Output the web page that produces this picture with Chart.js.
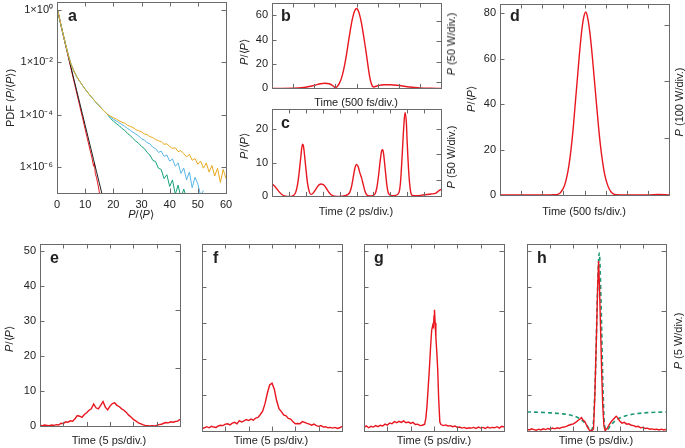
<!DOCTYPE html>
<html>
<head>
<meta charset="utf-8">
<script src="https://cdn.jsdelivr.net/npm/chart.js@4.4.0/dist/chart.umd.min.js"></script>
<style>
  body { margin: 0; background: #fff; }
  #fig { position: relative; width: 685px; height: 448px; overflow: hidden; font-family: 'Liberation Sans', Arial, sans-serif; color: #222; }
  #fig canvas { position: absolute; }
  .t { position: absolute; font-size: 11px; white-space: nowrap; transform: translate(-50%, -50%); z-index: 2; }
  .r { transform: translate(-50%, -50%) rotate(-90deg); }
  .lt { position: absolute; font-size: 16px; font-weight: bold; line-height: 16px; z-index: 2; }
</style>
</head>
<body>
<div id="fig">
  <div class="lt" style="left:68px;top:8px">a</div>
  <div class="lt" style="left:281px;top:8px">b</div>
  <div class="lt" style="left:281px;top:115px">c</div>
  <div class="lt" style="left:510px;top:8px">d</div>
  <div class="lt" style="left:50px;top:250px">e</div>
  <div class="lt" style="left:213px;top:250px">f</div>
  <div class="lt" style="left:374px;top:250px">g</div>
  <div class="lt" style="left:537px;top:250px">h</div>

  <div class="t r" style="left:10px;top:98px">PDF (<i>P</i>/⟨<i>P</i>⟩)</div>
  <div class="t" style="left:141px;top:214px"><i>P</i>/⟨<i>P</i>⟩</div>

  <div class="t r" style="left:244px;top:52px"><i>P</i>/⟨<i>P</i>⟩</div>
  <div class="t r" style="left:451px;top:44px"><i>P</i> (50 W/div.)</div>
  <div class="t" style="left:356px;top:102px">Time (500 fs/div.)</div>

  <div class="t r" style="left:244px;top:146px"><i>P</i>/⟨<i>P</i>⟩</div>
  <div class="t r" style="left:451px;top:157px"><i>P</i> (50 W/div.)</div>
  <div class="t" style="left:356px;top:211px">Time (2 ps/div.)</div>

  <div class="t r" style="left:471px;top:99px"><i>P</i>/⟨<i>P</i>⟩</div>
  <div class="t r" style="left:679px;top:102px"><i>P</i> (100 W/div.)</div>
  <div class="t" style="left:584px;top:211px">Time (500 fs/div.)</div>

  <div class="t r" style="left:9px;top:339px"><i>P</i>/⟨<i>P</i>⟩</div>
  <div class="t" style="left:109px;top:440px">Time (5 ps/div.)</div>
  <div class="t" style="left:271px;top:440px">Time (5 ps/div.)</div>
  <div class="t" style="left:434px;top:440px">Time (5 ps/div.)</div>
  <div class="t" style="left:596px;top:440px">Time (5 ps/div.)</div>
  <div class="t r" style="left:678px;top:341px"><i>P</i> (5 W/div.)</div>
</div>
<script>
// ---- panel a: PDF of P/<P>, values as log10 of the PDF ----
const aTickVals = [1, 1e-2, 1e-4, 1e-6];
const aTickLabels = ['1×10⁰', '1×10⁻²', '1×10⁻⁴', '1×10⁻⁶'];
const aXTicks = [0, 10, 20, 30, 40, 50, 60];

const redP = [0, 1, 2, 3, 4, 5, 6, 7, 8, 9, 10, 11, 12, 12.5, 13, 13.3, 13.6, 14, 14.5, 15, 15.4];
const redLog = [0.1, -0.4, -0.87, -1.33, -1.8, -2.26, -2.72, -3.18, -3.64, -4.1, -4.56, -5.02, -5.48, -5.7, -5.98, -5.85, -6.25, -6.4, -6.65, -6.95, -7.2];
const blackP = [0, 1, 2, 3, 4, 5, 6, 7, 8, 9, 10, 11, 12, 13, 14, 15, 16];
const blackLog = [0.1, -0.4, -0.86, -1.31, -1.76, -2.21, -2.65, -3.09, -3.53, -3.97, -4.41, -4.85, -5.29, -5.73, -6.17, -6.61, -7.05];
const sharedP = [0, 1, 2, 3, 4, 5, 6, 7, 8, 9, 10, 11, 12, 13, 14, 15, 16, 17, 18];
const sharedLog = [0.1, -0.38, -0.85, -1.3, -1.72, -2.08, -2.34, -2.55, -2.72, -2.88, -3.03, -3.17, -3.3, -3.43, -3.55, -3.67, -3.79, -3.9, -4.0];
const orangeTailP = [19, 20, 21, 22, 23, 24, 25, 26, 27, 28, 29, 30, 31, 32, 33, 34, 35, 36, 37, 38, 39, 40, 41, 42, 43, 44, 45, 46, 47, 48, 49, 50, 51, 52, 53, 54, 55, 56, 57, 58, 59, 60];
const orangeTailLog = [-4.06, -4.12, -4.17, -4.24, -4.29, -4.33, -4.41, -4.45, -4.5, -4.58, -4.62, -4.66, -4.74, -4.77, -4.85, -4.88, -4.96, -5.0, -5.04, -5.14, -5.12, -5.22, -5.3, -5.27, -5.42, -5.38, -5.5, -5.62, -5.52, -5.75, -5.68, -5.9, -5.78, -6.05, -5.85, -6.2, -5.95, -6.35, -6.05, -6.6, -6.1, -6.45];
const blueTailP = [19, 20, 21, 22, 23, 24, 25, 26, 27, 28, 29, 30, 31, 32, 33, 34, 35, 36, 37, 38, 39, 40, 41, 42, 43, 44, 45, 46, 47, 48, 49, 50, 51, 52];
const blueTailLog = [-4.1, -4.18, -4.24, -4.31, -4.38, -4.45, -4.53, -4.6, -4.68, -4.75, -4.82, -4.93, -4.97, -5.08, -5.12, -5.25, -5.3, -5.45, -5.4, -5.6, -5.55, -5.78, -5.7, -5.98, -5.85, -6.25, -6.05, -6.5, -6.2, -6.8, -6.4, -6.65, -7.1, -6.9];
const greenTailP = [19, 20, 21, 22, 23, 24, 25, 26, 27, 28, 29, 30, 31, 32, 33, 34, 35, 36, 37, 38, 39, 40, 41, 42, 43, 44, 45, 46];
const greenTailLog = [-4.15, -4.25, -4.34, -4.42, -4.53, -4.6, -4.72, -4.8, -4.92, -5.02, -5.1, -5.22, -5.3, -5.45, -5.55, -5.75, -5.8, -6.05, -6.1, -6.45, -6.3, -6.75, -6.5, -7.05, -6.7, -7.2, -6.85, -7.2];

// ---- panel b: single pulse, 500 fs/div ----
const bTime = [0, 0.5, 1, 1.5, 2, 2.3, 2.5, 2.7, 2.9, 3.0, 3.1, 3.2, 3.3, 3.4, 3.5, 3.6, 3.7, 3.8, 3.9, 4.0, 4.1, 4.2, 4.3, 4.4, 4.5, 4.6, 4.7, 4.8, 5.0, 5.3, 5.6, 6.0, 6.5, 7.0, 7.5, 8];
const bPower = [0, 0, 0.1, 0.8, 2.5, 3.8, 4.2, 3.8, 2.0, 0.6, 1.8, 4.5, 9, 16, 25, 36, 47, 56.5, 63, 65.5, 63, 56.5, 47, 36, 24, 12, 4, 1.2, 2.2, 3, 3, 2.4, 1.2, 0.4, 0.1, 0];

// ---- panel c: pulse train, 2 ps/div ----
const cTime = [0, 0.2, 0.4, 0.6, 0.8, 1.0, 1.2, 1.3, 1.4, 1.5, 1.6, 1.7, 1.8, 1.85, 1.9, 2.0, 2.1, 2.2, 2.3, 2.4, 2.5, 2.6, 2.7, 2.8, 2.9, 3.0, 3.1, 3.2, 3.3, 3.4, 3.5, 3.7, 4.0, 4.3, 4.5, 4.6, 4.7, 4.8, 4.9, 5.0, 5.1, 5.2, 5.3, 5.4, 5.5, 5.6, 5.8, 6.0, 6.1, 6.2, 6.3, 6.4, 6.5, 6.55, 6.6, 6.7, 6.8, 6.9, 7.1, 7.3, 7.5, 7.6, 7.7, 7.8, 7.87, 7.95, 8.0, 8.1, 8.2, 8.3, 8.6, 9.0, 9.4, 9.7, 9.85, 10];
const cPower = [3.8, 2.8, 1.5, 0.5, 0.1, 0, 0.1, 0.4, 1.2, 3.2, 6.8, 11.5, 15.5, 15.2, 13.5, 8.5, 4, 1.5, 0.6, 0.8, 1.4, 2.2, 3.0, 3.5, 3.7, 3.6, 3.2, 2.5, 1.7, 1.0, 0.5, 0.1, 0, 0.2, 0.6, 1.2, 2.8, 5.5, 8.3, 9.5, 8.8, 7, 5.5, 3.5, 1.6, 0.5, 0.1, 0.3, 0.8, 2.5, 6, 10.5, 13.7, 13.9, 12.8, 8, 3.2, 0.8, 0.2, 0.3, 1, 4, 12, 21, 25, 22, 16, 6.5, 1.5, 0.3, 0.2, 0.5, 0.7, 1.0, 1.6, 2.1];

// ---- panel d: single pulse, 500 fs/div ----
const dTime = [0, 1, 2, 2.6, 2.76, 2.86, 2.96, 3.06, 3.16, 3.26, 3.36, 3.46, 3.56, 3.66, 3.76, 3.86, 3.96, 4.06, 4.16, 4.26, 4.36, 4.46, 4.56, 4.66, 4.76, 4.86, 4.96, 5.06, 5.16, 5.26, 5.36, 5.5, 6, 7, 7.5, 8];
const dPower = [0.2, 0.2, 0.2, 0.3, 0.6, 1.2, 2.5, 4.5, 8, 13, 20, 29, 40, 51, 62, 71.5, 78, 80.5, 77.5, 71, 62, 51.5, 41, 30.5, 21.5, 14.5, 9, 5.5, 3, 1.5, 0.7, 0.3, 0.2, 0.2, 0.4, 0.2];

// ---- panels e, f: 5 ps/div ----
const efTime = [0, 0.1, 0.2, 0.3, 0.4, 0.5, 0.6, 0.7, 0.8, 0.9, 1.0, 1.1, 1.2, 1.3, 1.4, 1.5, 1.6, 1.7, 1.8, 1.9, 2.0, 2.1, 2.2, 2.3, 2.4, 2.5, 2.6, 2.7, 2.8, 2.9, 3.0, 3.1, 3.2, 3.3, 3.4, 3.5, 3.6, 3.7, 3.8, 3.9, 4.0, 4.1, 4.2, 4.3, 4.4, 4.5, 4.6, 4.7, 4.8, 4.9, 5.0, 5.1, 5.2, 5.3, 5.4, 5.5, 5.6, 5.7, 5.8, 5.9, 6.0];
const ePower = [0.3, 0.2, 0.4, 0.3, 0.2, 0.4, 0.3, 0.5, 0.4, 0.9, 0.8, 1.3, 1.2, 1.6, 1.5, 2.2, 3.1, 2.9, 2.6, 3.4, 3.9, 4.6, 5.0, 6.4, 5.3, 5.0, 6.0, 7.1, 5.5, 4.7, 5.8, 6.5, 6.7, 6.0, 5.6, 5.0, 4.6, 4.0, 3.2, 2.7, 2.0, 1.6, 1.1, 0.8, 0.5, 0.3, 0.2, 0.1, 0.2, 0.1, 0.3, 0.5, 0.6, 0.9, 1.1, 1.0, 1.3, 1.2, 1.4, 1.5, 2.0];
const fPower = [0.7, 0.9, 1.2, 0.9, 1.3, 1.1, 1.0, 1.4, 1.6, 1.5, 1.9, 2.0, 1.7, 2.2, 2.4, 2.0, 2.9, 2.5, 2.8, 3.2, 2.9, 3.3, 3.0, 3.6, 3.8, 4.6, 5.5, 7.6, 10.5, 12.8, 13.3, 11.6, 8.4, 6.2, 5.4, 4.5, 4.2, 3.5, 3.3, 2.6, 2.0, 2.1, 2.0, 2.6, 2.4, 2.1, 1.9, 1.6, 1.9, 1.5, 1.3, 1.5, 1.1, 1.2, 0.9, 1.0, 0.8, 1.0, 0.7, 0.9, 1.3];

// ---- panel g ----
const gTime = [0, 0.1, 0.2, 0.3, 0.4, 0.5, 0.6, 0.7, 0.8, 0.9, 1.0, 1.1, 1.2, 1.3, 1.4, 1.5, 1.6, 1.7, 1.8, 1.9, 2.0, 2.1, 2.2, 2.3, 2.4, 2.5, 2.6,
  2.65, 2.7, 2.75, 2.8, 2.85, 2.9, 2.95, 2.98, 3.0, 3.02, 3.05, 3.08, 3.12, 3.16, 3.2, 3.25, 3.3,
  3.4, 3.5, 3.6, 3.7, 3.8, 3.9, 4.0, 4.1, 4.2, 4.3, 4.4, 4.5, 4.6, 4.7, 4.8, 4.9, 5.0, 5.1, 5.2, 5.3, 5.4, 5.5, 5.6, 5.7, 5.8, 5.9, 6.0];
const gPower = [1.0, 1.4, 0.9, 1.3, 1.1, 1.5, 1.2, 1.6, 1.4, 1.9, 1.6, 2.2, 2.0, 2.6, 2.3, 2.7, 2.4, 2.8, 2.3, 2.5, 2.1, 2.4, 1.8, 1.9, 1.5, 1.6, 1.9,
  3.5, 7, 12, 17, 23, 28, 29.5, 29, 32, 33.7, 30, 26, 22, 17, 9, 2.5, 1.8,
  1.5, 1.7, 1.4, 1.5, 1.2, 1.4, 1.0, 1.1, 0.8, 1.0, 0.7, 0.9, 0.8, 1.0, 0.7, 1.1, 0.8, 1.0, 0.7, 1.1, 0.8, 1.0, 0.9, 1.2, 0.8, 1.3, 1.1];

// ---- panel h: measurement (red) and fit (green dashed) ----
const hTime = [0, 0.1, 0.2, 0.3, 0.4, 0.5, 0.6, 0.7, 0.8, 0.9, 1.0, 1.1, 1.2, 1.3, 1.4, 1.5, 1.6, 1.7, 1.8, 1.9, 2.0, 2.1, 2.2, 2.3,
  2.35, 2.4, 2.5, 2.6, 2.7, 2.8, 2.87, 2.93, 3.0, 3.05, 3.09, 3.13, 3.17, 3.22, 3.27, 3.32, 3.37, 3.45, 3.55, 3.65, 3.75, 3.85, 3.9,
  4.0, 4.1, 4.2, 4.3, 4.4, 4.5, 4.6, 4.7, 4.8, 4.9, 5.0, 5.1, 5.2, 5.3, 5.4, 5.5, 5.6, 5.7, 5.8, 5.9, 6.0];
const hPower = [0.5, 0.3, 0.6, 0.4, 0.2, 0.5, 0.3, 0.6, 0.4, 0.7, 0.5, 0.8, 0.6, 0.9, 0.7, 1.0, 1.1, 1.3, 1.6, 1.8, 2.0, 2.4, 2.9, 3.4,
  3.7, 3.2, 2.6, 1.2, 0.2, 0.1, 0.5, 10, 27, 40, 47.3, 40, 30, 17, 7, 1.5, 0.1, 0.6, 1.8, 2.7, 3.4, 4.1, 3.8,
  2.8, 2.2, 2.4, 1.9, 2.0, 1.6, 1.5, 1.2, 1.3, 0.9, 1.0, 0.7, 0.8, 0.5, 0.6, 0.4, 0.5, 0.3, 0.5, 0.3, 0.4];
const hFitTime = [0, 0.5, 1.0, 1.5, 1.9, 2.2, 2.4, 2.6, 2.75, 2.85, 2.95, 3.05, 3.12, 3.2, 3.28, 3.35, 3.45, 3.6, 3.8, 4.0, 4.3, 4.7, 5.2, 6.0];
const hFitPower = [5.3, 5.2, 5.05, 4.8, 4.4, 3.7, 2.8, 1.4, 0.2, 1.5, 15, 40, 49.5, 35, 12, 1.5, 0.3, 1.5, 2.8, 3.6, 4.3, 4.8, 5.1, 5.3];

const RED = '#e8161e';
const TICK_FONT = { family: "'Liberation Sans', Arial, sans-serif", size: 11 };

// frame round the plot area with short inward ticks on all four sides
const frameTicks = {
  id: 'frameTicks',
  afterDatasetsDraw(chart, args, opts) {
    const { ctx, chartArea: a, scales: { x, y } } = chart;
    const L = 4.5;
    ctx.save();
    ctx.strokeStyle = '#6a6a6a';
    ctx.lineWidth = 1;
    ctx.beginPath();
    (opts.x || []).forEach(v => {
      const px = Math.round(x.getPixelForValue(v)) + 0.5;
      ctx.moveTo(px, a.top); ctx.lineTo(px, a.top + L);
      ctx.moveTo(px, a.bottom); ctx.lineTo(px, a.bottom - L);
    });
    (opts.yLeft || []).forEach(v => {
      const py = Math.round(y.getPixelForValue(v)) + 0.5;
      ctx.moveTo(a.left, py); ctx.lineTo(a.left + L, py);
    });
    (opts.yRight || []).forEach(v => {
      const py = Math.round(y.getPixelForValue(v)) + 0.5;
      ctx.moveTo(a.right, py); ctx.lineTo(a.right - L, py);
    });
    ctx.stroke();
    ctx.strokeRect(Math.round(a.left) + 0.5, Math.round(a.top) + 0.5, Math.round(a.right - a.left), Math.round(a.bottom - a.top));
    ctx.restore();
  }
};

const pts = (xs, ys) => xs.map((x, i) => ({ x, y: ys[i] }));
const logPts = (xs, ls) => xs.map((x, i) => ({ x, y: Math.pow(10, ls[i]) }));
const line = (data, color, extra) => Object.assign({ data, borderColor: color, borderWidth: 1.4, pointRadius: 0, fill: false }, extra);

// box = plot area [left, top, right, bottom] in page pixels
function panel(box, o) {
  const m = { l: o.labelW || 8, t: 12, r: 12, b: o.xLabels ? 22 : 6 };
  const w = box[2] - box[0] + m.l + m.r, h = box[3] - box[1] + m.t + m.b;
  const cv = document.createElement('canvas');
  cv.width = w; cv.height = h;
  Object.assign(cv.style, { left: (box[0] - m.l) + 'px', top: (box[1] - m.t) + 'px', width: w + 'px', height: h + 'px' });
  document.getElementById('fig').appendChild(cv);
  return new Chart(cv, {
    type: 'line',
    data: { datasets: o.datasets },
    options: {
      responsive: false, animation: false, devicePixelRatio: 1,
      layout: { padding: { left: 0, top: m.t, right: m.r, bottom: 0 } },
      plugins: { legend: { display: false }, tooltip: { enabled: false },
        frameTicks: { x: o.xTicks, yLeft: o.yLeft, yRight: o.yRight } },
      scales: {
        x: { type: 'linear', min: o.xMin, max: o.xMax,
          grid: { display: false, drawTicks: false }, border: { display: false },
          ticks: { display: !!o.xLabels, padding: 5, font: TICK_FONT, color: '#222', maxRotation: 0 },
          afterBuildTicks: s => { s.ticks = o.xTicks.map(v => ({ value: v })); },
          afterFit: s => { s.height = m.b; } },
        y: { type: o.yType || 'linear', min: o.yMin, max: o.yMax,
          grid: { display: false, drawTicks: false }, border: { display: false },
          ticks: { display: !!o.yLabels, padding: 4, font: TICK_FONT, color: '#222', callback: o.yFmt },
          afterBuildTicks: s => { s.ticks = o.yLeft.map(v => ({ value: v })); },
          afterFit: s => { s.width = m.l; } }
      }
    },
    plugins: [frameTicks]
  });
}

const smooth = { cubicInterpolationMode: 'monotone' };
const divs = n => Array.from({ length: n + 1 }, (_, i) => i);

// a
panel([57, 2, 226, 193], {
  labelW: 57, xMin: 0, xMax: 60, yType: 'logarithmic', yMin: 1e-7, yMax: 2,
  xTicks: aXTicks, xLabels: true, yLeft: aTickVals, yRight: aTickVals, yLabels: true,
  yFmt: (v, i) => aTickLabels[i],
  datasets: [
    line(logPts(sharedP.concat(orangeTailP), sharedLog.concat(orangeTailLog)), '#e8a91f', { borderWidth: 1 }),
    line(logPts(sharedP.concat(blueTailP), sharedLog.concat(blueTailLog)), '#58b5e6', { borderWidth: 1 }),
    line(logPts(sharedP.concat(greenTailP), sharedLog.concat(greenTailLog)), '#16a07a', { borderWidth: 1 }),
    line(logPts(blackP, blackLog), '#1e1e1e', { borderWidth: 1 }),
    line(logPts(redP, redLog), RED, { borderWidth: 1 })
  ]
});

// b
panel([272, 3, 441, 93], {
  labelW: 30, xMin: 0, xMax: 8, yMin: 0, yMax: 70,
  xTicks: divs(8), yLeft: [0, 20, 40, 60], yRight: [5.5, 22, 38.5, 55], yLabels: true,
  datasets: [line(pts(bTime, bPower), RED, smooth)]
});

// c
panel([272, 109, 441, 201], {
  labelW: 30, xMin: 0, xMax: 10, yMin: 0, yMax: 26,
  xTicks: divs(10), yLeft: [0, 10, 20], yRight: [5, 12.5, 20], yLabels: true,
  datasets: [line(pts(cTime, cPower), RED, smooth)]
});

// d
panel([500, 4, 669, 200], {
  labelW: 30, xMin: 0, xMax: 8, yMin: 0, yMax: 84,
  xTicks: divs(8), yLeft: [0, 20, 40, 60, 80], yRight: [25, 50, 75], yLabels: true,
  datasets: [line(pts(dTime, dPower), RED, smooth)]
});

const bottomLeft = [0, 10, 20, 30, 40, 50];
const bottomRight = [16.7, 33.3, 50];

// e
panel([40, 244, 180, 431], {
  labelW: 30, xMin: 0, xMax: 6, yMin: 0, yMax: 52,
  xTicks: divs(6), yLeft: bottomLeft, yRight: bottomRight, yLabels: true,
  datasets: [line(pts(efTime, ePower), RED)]
});

// f
panel([202, 244, 342, 431], {
  xMin: 0, xMax: 6, yMin: 0, yMax: 52,
  xTicks: divs(6), yLeft: bottomLeft, yRight: bottomRight,
  datasets: [line(pts(efTime, fPower), RED)]
});

// g
panel([364, 244, 504, 431], {
  xMin: 0, xMax: 6, yMin: 0, yMax: 52,
  xTicks: divs(6), yLeft: bottomLeft, yRight: bottomRight,
  datasets: [line(pts(gTime, gPower), RED)]
});

// h
panel([527, 244, 666, 431], {
  xMin: 0, xMax: 6, yMin: 0, yMax: 52,
  xTicks: divs(6), yLeft: bottomLeft, yRight: bottomRight,
  datasets: [
    line(pts(hTime, hPower), RED),
    line(pts(hFitTime, hFitPower), '#1f9a78', Object.assign({ borderDash: [4, 3], borderWidth: 1.6 }, smooth))
  ]
});
</script>
</body>
</html>
